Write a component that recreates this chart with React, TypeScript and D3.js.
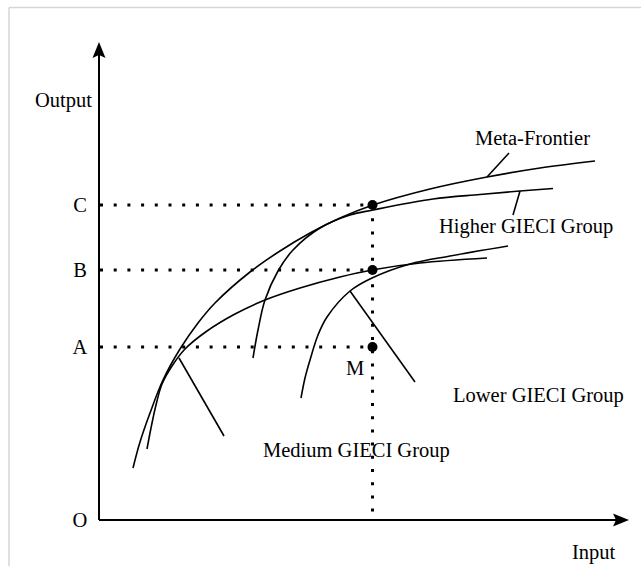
import React from "react";
import * as d3 from "d3";

// Curve data in abstract units (input, output)
const metaFrontier: [number, number][] = [
  [6.8, 10.4], [8.2, 15.6], [10.2, 21.4], [12.8, 28], [16.2, 34.2], [19.8, 39.4],
  [23.2, 43.4], [30.2, 49.6], [36.2, 53.8], [42.2, 57.4], [48.2, 60.4], [54.8, 63],
  [66.2, 66.2], [77.6, 68.6], [88.2, 70.4], [99.2, 71.8],
];
const higherGroup: [number, number][] = [
  [30.8, 32.4], [31.8, 38], [33.2, 44], [35.8, 49.8], [38.8, 54], [44.2, 58.4],
  [50.2, 61], [54.8, 62], [66.8, 64.2], [76.2, 65.1], [84.2, 65.8], [90.8, 66.3],
];
const mediumGroup: [number, number][] = [
  [9.6, 14.2], [10.4, 18.4], [11.4, 23], [12.6, 27.2], [14.6, 30.8], [17.2, 34.2],
  [21.6, 37.8], [27.2, 41.2], [33.2, 44], [40.2, 46.4], [48.2, 48.6], [54.6, 50],
  [64.2, 51.4], [77.6, 52.4],
];
const lowerGroup: [number, number][] = [
  [40.4, 24.4], [41.2, 28.4], [42.2, 32], [43.8, 37], [45.6, 40.6], [50.2, 45.8],
  [54.6, 48.4], [62.2, 51.2], [70.2, 52.8], [81.8, 54.8],
];

// Output levels and the common input level
const levelLabels = ["C", "B", "A"];
const levelValues = [63, 50, 34.6];
const inputLevel = 54.7;

// Leader lines from curves to their labels: [x1, y1, x2, y2]
const leaders: [number, number, number, number][] = [
  [77.6, 68.6, 82, 73.4],
  [84.2, 65.8, 82.8, 61],
  [50.2, 45.8, 63.2, 27.6],
  [16, 32.4, 25, 16.8],
];
const curveNames = ["Meta-Frontier", "Higher GIECI Group", "Lower GIECI Group", "Medium GIECI Group"];
const curveLabelAnchors: [number, number][] = [
  [75.2, 75], [68, 57.4], [70.8, 23.6], [32.8, 12.6],
];

const W = 641;
const H = 566;
const FONT = "'Liberation Serif', 'Times New Roman', serif";

export default function App() {
  const x = d3.scaleLinear().domain([0, 106]).range([99, 629]);
  const y = d3.scaleLinear().domain([0, 95.6]).range([520, 42]);
  const line = d3
    .line<[number, number]>()
    .x((d) => x(d[0]))
    .y((d) => y(d[1]))
    .curve(d3.curveCatmullRom.alpha(0.5));

  const curves = [metaFrontier, higherGroup, mediumGroup, lowerGroup];
  const x0 = x(0);
  const y0 = y(0);
  const xTip = x(106);
  const yTip = y(95.6);
  const xi = x(inputLevel);

  return (
    <svg
      width={W}
      height={H}
      style={{ position: "absolute", left: 0, top: 0, background: "#fff" }}
      fontFamily={FONT}
    >
      {/* frame */}
      <line x1={9} y1={7.5} x2={W} y2={7.5} stroke="#d6d6d6" strokeWidth={1.5} />
      <line x1={9} y1={7.5} x2={9} y2={H} stroke="#d6d6d6" strokeWidth={1.5} />

      {/* dotted guides */}
      {levelValues.map((v, i) => (
        <line
          key={"h" + i}
          x1={x0 + 1}
          y1={y(v)}
          x2={xi}
          y2={y(v)}
          stroke="#000"
          strokeWidth={3}
          strokeDasharray="3 10.7"
        />
      ))}
      <line
        x1={xi}
        y1={y(levelValues[0])}
        x2={xi}
        y2={y0}
        stroke="#000"
        strokeWidth={3}
        strokeDasharray="3 10.2"
      />

      {/* curves */}
      {curves.map((c, i) => (
        <path key={"c" + i} d={line(c) || ""} fill="none" stroke="#000" strokeWidth={1.6} />
      ))}

      {/* leaders */}
      {leaders.map((l, i) => (
        <line
          key={"l" + i}
          x1={x(l[0])}
          y1={y(l[1])}
          x2={x(l[2])}
          y2={y(l[3])}
          stroke="#000"
          strokeWidth={1.6}
        />
      ))}

      {/* points */}
      {levelValues.map((v, i) => (
        <circle key={"p" + i} cx={xi} cy={y(v)} r={5} fill="#000" />
      ))}

      {/* axes */}
      <line x1={x0} y1={y0} x2={x0} y2={yTip + 12} stroke="#000" strokeWidth={2} />
      <line x1={x0} y1={y0} x2={xTip - 12} y2={y0} stroke="#000" strokeWidth={2} />
      <path
        d={`M${x0},${yTip} L${x0 + 6.5},${yTip + 16} L${x0},${yTip + 13} L${x0 - 6.5},${yTip + 16} Z`}
        fill="#000"
      />
      <path
        d={`M${xTip},${y0} L${xTip - 16},${y0 - 6.5} L${xTip - 13},${y0} L${xTip - 16},${y0 + 6.5} Z`}
        fill="#000"
      />

      {/* text */}
      <g fontSize={20.5} fill="#000">
        <text x={92} y={107} textAnchor="end">Output</text>
        <text x={572} y={559}>Input</text>
        <text x={80} y={y0 + 7} textAnchor="middle">O</text>
        {levelLabels.map((t, i) => (
          <text key={"t" + i} x={80} y={y(levelValues[i]) + 7} textAnchor="middle">
            {t}
          </text>
        ))}
        <text x={x(49.4)} y={y(29)}>M</text>
        {curveNames.map((n, i) => (
          <text key={"n" + i} x={x(curveLabelAnchors[i][0])} y={y(curveLabelAnchors[i][1])}>
            {n}
          </text>
        ))}
      </g>
    </svg>
  );
}
